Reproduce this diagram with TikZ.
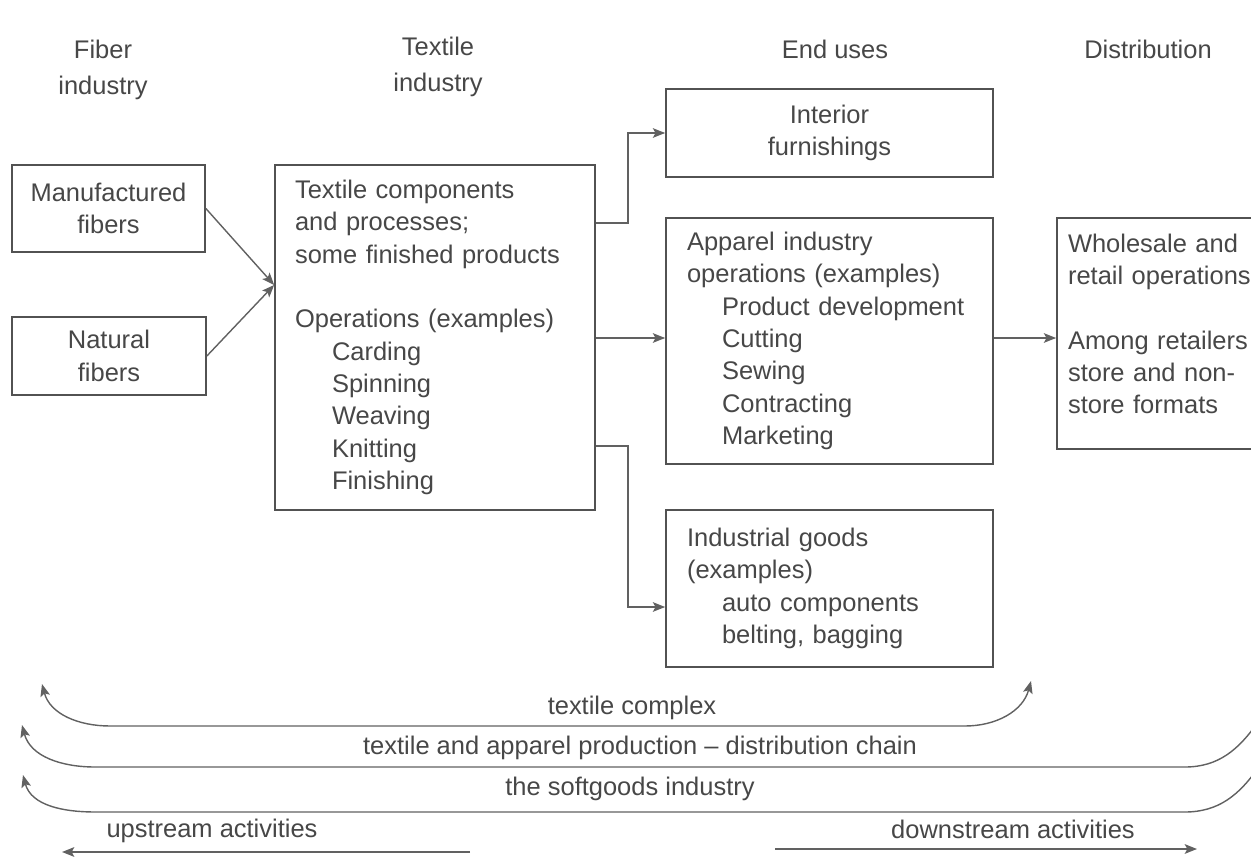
\documentclass[tikz,border=0pt]{standalone}
\usepackage{fontspec}
\setmainfont{Liberation Sans}
\usetikzlibrary{calc}
\usetikzlibrary{arrows.meta}
\usepackage{xcolor}

\begin{document}
\begin{tikzpicture}[x=0.02cm, y=-0.02cm,
  txt/.style={text=black!72, font=\fontsize{14.5}{18.4}\selectfont},
  head/.style={txt, align=center, font=\fontsize{14.5}{20.4}\selectfont},
  box/.style={txt, draw=black!68, line width=1pt, inner sep=0pt},
  lbox/.style={box, align=left, inner ysep=0pt},
  arr/.style={draw=black!62, line width=0.8pt, >={Stealth[length=7pt,width=5.5pt,inset=1.5pt]}}]
\useasboundingbox (0,0) rectangle (1251,858);
\clip (0,0) rectangle (1251,858);
\node[head] (h-fib) at (103,70) {Fiber\\industry};
\node[head] (h-tex) at (438,67) {Textile\\industry};
\node[txt] (h-end) at (835,49) {End uses};
\node[txt] (h-dis) at (1148,49) {Distribution};
\node[box, align=center, minimum width=3.86cm, minimum height=1.74cm] (manu) at (108.5,208.5) {Manufactured\\fibers};
\node[box, align=center, minimum width=3.88cm, minimum height=1.56cm] (natu) at (109,356) {Natural\\fibers};
\node[lbox, inner xsep=0.4cm, text width=5.6cm, minimum height=6.9cm] (text) at (435,337.5) {Textile components\\and processes;\\some finished products\\[18.4pt]Operations (examples)\\\hspace*{0.74cm}Carding\\\hspace*{0.74cm}Spinning\\\hspace*{0.74cm}Weaving\\\hspace*{0.74cm}Knitting\\\hspace*{0.74cm}Finishing};
\node[box, align=center, minimum width=6.54cm, minimum height=1.76cm] (inte) at (829.5,133) {Interior\\furnishings};
\node[lbox, inner xsep=0.42cm, text width=5.7cm, minimum height=4.92cm] (appa) at (829.5,341) {Apparel industry\\operations (examples)\\\hspace*{0.7cm}Product development\\\hspace*{0.7cm}Cutting\\\hspace*{0.7cm}Sewing\\\hspace*{0.7cm}Contracting\\\hspace*{0.7cm}Marketing};
\node[lbox, inner xsep=0.42cm, text width=5.7cm, minimum height=3.14cm] (indu) at (829.5,588.5) {Industrial goods\\(examples)\\\hspace*{0.7cm}auto components\\\hspace*{0.7cm}belting, bagging};
\node[lbox, inner xsep=0.22cm, text width=3.92cm, minimum height=4.62cm] (dist) at (1166,333.5) {Wholesale and\\retail operations\\[18.4pt]Among retailers\\store and non-\\store formats\\[-7.5pt]\mbox{}};
\coordinate (join) at (text.west |- 0,285);
\draw[arr, ->] (manu.east) -- (join);
\draw[arr, ->] (natu.east) -- (join);
\draw[arr, ->] (text.east |- 0,223) -- ++(32,0) |- (inte.west);
\draw[arr, ->] (text.east |- 0,338) -- (appa.west |- 0,338);
\draw[arr, ->] (text.east |- 0,446) -- ++(32,0) |- (indu.west |- 0,607);
\draw[arr, ->] (appa.east |- 0,338) -- (dist.west |- 0,338);
\node[txt] (tc) at (632,708) {textile complex};
\node[txt] (ch) at (640,748) {textile and apparel production -- distribution chain};
\node[txt] (sg) at (630,789) {the softgoods industry};
\node[txt] (up) at (212,831) {upstream activities};
\node[txt] (down) at (1013,829) {downstream activities};
\coordinate (tc-l) at (42,684);
\coordinate (tc-r) at (1031,681);
\coordinate (ch-l) at (22,725);
\coordinate (ch-r) at (1258,722);
\coordinate (sg-l) at (23,775);
\coordinate (sg-r) at (1258,768);
\draw[arr, <->] (tc-l) to[out=-75,in=180] (110,726) -- (965,726) to[out=0,in=-105] (tc-r);
\draw[arr, <-] (ch-l) to[out=-75,in=180] (95,767) -- (1185,767) to[out=0,in=-125] (ch-r);
\draw[arr, <-] (sg-l) to[out=-75,in=180] (95,812) -- (1185,812) to[out=0,in=-125] (sg-r);
\coordinate (up-s) at (470,852);
\coordinate (up-e) at (62,852);
\coordinate (down-s) at (775,849);
\coordinate (down-e) at (1197,849);
\draw[arr, ->] (up-s) -- (up-e);
\draw[arr, ->] (down-s) -- (down-e);
\end{tikzpicture}
\end{document}
